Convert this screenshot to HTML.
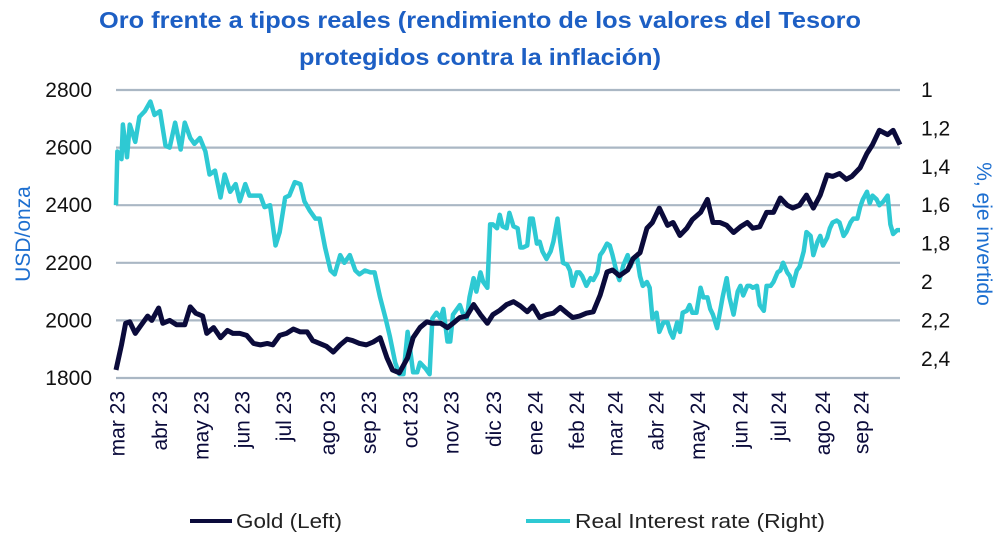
<!DOCTYPE html>
<html><head><meta charset="utf-8"><style>
body{margin:0;background:#fff;width:1007px;height:547px;overflow:hidden;font-family:"Liberation Sans",sans-serif}
</style></head><body>
<svg id="chart" width="1007" height="547" xmlns="http://www.w3.org/2000/svg">
<text x="480" y="28" text-anchor="middle" font-size="23.5" font-weight="bold" fill="#1d5fc4" textLength="762" lengthAdjust="spacingAndGlyphs">Oro frente a tipos reales (rendimiento de los valores del Tesoro</text>
<text x="480" y="65" text-anchor="middle" font-size="23.5" font-weight="bold" fill="#1d5fc4" textLength="362" lengthAdjust="spacingAndGlyphs">protegidos contra la inflación)</text>
<text transform="translate(30,234) rotate(-90)" text-anchor="middle" font-size="21" fill="#1d6fd0">USD/onza</text>
<text transform="translate(977,234) rotate(90)" text-anchor="middle" font-size="21" fill="#1d6fd0">%, eje invertido</text>
<g id="grid"></g><g id="ylabels"></g><g id="xlabels"></g>
<defs><clipPath id="pc"><rect x="112" y="86" width="792" height="293"/></clipPath></defs>
<g id="series" clip-path="url(#pc)"></g>
<g>
<line x1="190" y1="521" x2="232" y2="521" stroke="#0b0b3b" stroke-width="4"/>
<text x="236" y="528" font-size="20" fill="#222" textLength="106" lengthAdjust="spacingAndGlyphs">Gold (Left)</text>
<line x1="526" y1="521" x2="570" y2="521" stroke="#2ec9d3" stroke-width="4"/>
<text x="575" y="528" font-size="20" fill="#222" textLength="250" lengthAdjust="spacingAndGlyphs">Real Interest rate (Right)</text>
</g>
</svg>
<script>
const leftTicks=[1800,2000,2200,2400,2600,2800];
const rightTicks=["1","1,2","1,4","1,6","1,8","2","2,2","2,4"];
const rightTickVals=[1,1.2,1.4,1.6,1.8,2,2.2,2.4];
const monthLabels=["mar 23","abr 23","may 23","jun 23","jul 23","ago 23","sep 23","oct 23","nov 23","dic 23","ene 24","feb 24","mar 24","abr 24","may 24","jun 24","jul 24","ago 24","sep 24"];
const monthDays=[1,32,62,92,122,154,184,214,244,275,305,335,363,393,423,454,482,514,542];
const goldDays=[0,4,7,10,14,17,23,26,31,34,39,44,50,54,58,63,66,71,76,81,85,90,95,100,105,110,114,119,124,129,134,139,143,148,153,158,163,168,172,177,182,187,192,197,201,206,212,216,221,226,230,236,241,245,250,255,260,265,270,274,279,284,289,294,299,303,308,313,318,323,328,332,337,342,347,352,357,361,366,372,376,381,386,390,395,401,405,410,415,419,425,430,434,439,444,449,454,459,463,468,473,478,483,488,492,497,502,507,512,517,521,526,531,535,541,546,550,555,561,565,570];
const goldValues=[1828,1915,1990,1995,1955,1975,2015,2000,2043,1990,2000,1985,1985,2047,2025,2015,1955,1975,1940,1965,1955,1955,1948,1920,1915,1920,1915,1948,1955,1970,1960,1960,1930,1920,1910,1890,1915,1935,1930,1920,1915,1925,1940,1870,1828,1818,1870,1940,1975,1995,1990,1990,1975,1990,2010,2015,2055,2020,1990,2020,2035,2055,2065,2050,2030,2050,2010,2020,2025,2045,2025,2010,2015,2025,2030,2088,2168,2175,2155,2175,2215,2235,2320,2340,2390,2330,2340,2295,2320,2350,2375,2420,2340,2340,2330,2305,2325,2340,2320,2325,2375,2375,2425,2400,2390,2400,2435,2390,2435,2505,2500,2510,2490,2500,2530,2580,2610,2660,2645,2660,2610];
const realDays=[0,1,4,5,8,10,14,17,21,25,28,32,36,39,43,47,50,54,57,61,65,68,72,76,79,83,87,90,94,97,101,105,108,112,116,119,123,126,130,134,137,141,145,148,152,156,159,163,166,170,174,177,181,185,188,192,196,199,203,206,209,212,214,216,219,221,225,228,230,233,236,238,241,243,245,248,250,252,255,257,260,262,265,267,270,272,274,277,279,281,284,286,289,292,294,296,299,301,303,306,308,310,313,316,318,321,323,325,328,330,332,335,337,339,342,345,347,350,352,354,357,359,361,364,366,369,372,374,376,379,381,383,386,388,390,393,395,398,401,403,405,408,410,412,415,417,419,422,425,427,430,432,434,437,439,441,444,446,449,452,454,456,459,461,463,466,468,471,473,476,478,481,483,485,488,490,492,495,497,500,502,505,507,510,512,514,517,519,521,524,526,529,531,534,536,539,541,543,546,548,550,553,555,558,561,563,565,568,570];
const realValues=[1.60,1.32,1.36,1.18,1.35,1.18,1.27,1.14,1.11,1.06,1.13,1.11,1.29,1.30,1.17,1.31,1.17,1.25,1.28,1.25,1.32,1.44,1.42,1.56,1.44,1.53,1.49,1.58,1.49,1.55,1.55,1.55,1.61,1.60,1.81,1.74,1.56,1.55,1.48,1.49,1.58,1.63,1.67,1.67,1.82,1.94,1.96,1.86,1.90,1.86,1.94,1.96,1.94,1.95,1.95,2.08,2.19,2.28,2.42,2.48,2.48,2.26,2.36,2.47,2.47,2.42,2.45,2.48,2.19,2.16,2.19,2.14,2.31,2.31,2.17,2.14,2.12,2.16,2.19,2.08,1.98,2.05,1.95,2.00,2.03,1.70,1.70,1.72,1.65,1.71,1.72,1.64,1.71,1.72,1.82,1.82,1.81,1.67,1.67,1.80,1.79,1.84,1.88,1.84,1.79,1.67,1.79,1.90,1.91,1.94,2.02,1.95,1.95,1.97,2.02,1.98,1.99,1.95,1.86,1.84,1.80,1.81,1.86,1.95,1.99,1.91,1.86,1.92,1.88,1.88,1.97,2.02,2.00,2.03,2.19,2.16,2.26,2.21,2.21,2.26,2.29,2.21,2.26,2.16,2.15,2.12,2.16,2.16,2.03,2.08,2.08,2.14,2.17,2.24,2.16,2.08,1.98,2.08,2.17,2.05,2.02,2.07,2.02,2.02,2.03,2.02,2.12,2.15,2.02,2.02,2.00,1.95,1.94,1.90,1.95,1.97,2.02,1.94,1.92,1.84,1.74,1.76,1.86,1.79,1.76,1.81,1.77,1.72,1.69,1.68,1.69,1.76,1.74,1.69,1.67,1.67,1.61,1.57,1.53,1.59,1.55,1.57,1.60,1.58,1.55,1.70,1.75,1.73,1.73];

const NS="http://www.w3.org/2000/svg";
const X0=116,X1=900,YT=90,YB=378;
const xS=d=>X0+(d/570)*(X1-X0);
const yL=v=>YB-(v-1800)/1000*(YB-YT);
const yR=v=>YT+(v-1)/1.5*(YB-YT);
function mk(tag,attrs,parent){const e=document.createElementNS(NS,tag);for(const k in attrs)e.setAttribute(k,attrs[k]);parent.appendChild(e);return e;}
const grid=document.getElementById('grid'),yl=document.getElementById('ylabels'),xl=document.getElementById('xlabels'),ser=document.getElementById('series');
leftTicks.forEach(v=>{
  const g=mk('line',{x1:X0,x2:X1,y1:yL(v),y2:yL(v),stroke:'#aab7c4','stroke-width':2.2},grid);
  
  
  const t=mk('text',{x:92,y:yL(v)+7,'text-anchor':'end','font-size':21,fill:'#111'},yl);
  t.textContent=v;
  
  
});
rightTicks.forEach((s,i)=>{
  const t=mk('text',{x:921,y:yR(rightTickVals[i])+7,'font-size':21,fill:'#111'},yl);
  t.textContent=s;
  
  
});
monthLabels.forEach((s,i)=>{
  const x=xS(monthDays[i])+7;
  const t=mk('text',{transform:`translate(${x},391) rotate(-90)`,'text-anchor':'end','font-size':21,fill:'#0b0b3b'},xl);
  t.textContent=s;
  
  
});
const rp=mk('polyline',{points:realDays.map((d,i)=>xS(d)+','+yR(realValues[i])).join(' '),fill:'none',stroke:'#2ec9d3','stroke-width':4.5,'stroke-linejoin':'round'},ser);


const gp=mk('polyline',{points:goldDays.map((d,i)=>xS(d)+','+yL(goldValues[i])).join(' '),fill:'none',stroke:'#0b0b3b','stroke-width':5,'stroke-linejoin':'round'},ser);


</script>
</body></html>
